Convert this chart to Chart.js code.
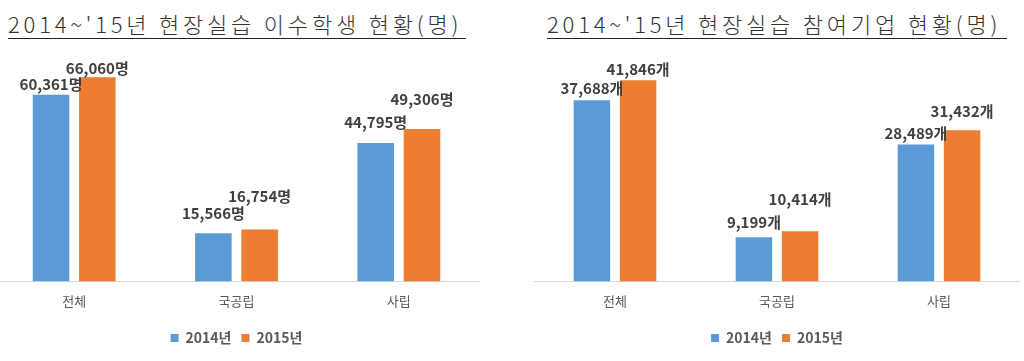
<!DOCTYPE html>
<html>
<head>
<meta charset="utf-8">
<script src="https://cdn.jsdelivr.net/npm/chart.js@4.4.1/dist/chart.umd.min.js"></script>
<style>
  body { margin: 0; width: 1024px; height: 361px; background: #fff; position: relative; overflow: hidden; font-family: "Noto Sans CJK KR", sans-serif; }
  .title { position: absolute; top: 9px; font-size: 22px; font-weight: 300; color: #333; letter-spacing: 3.8px; white-space: nowrap; border-bottom: 1px solid #222; line-height: 29px; }
  .box { position: absolute; top: 0; height: 361px; }
</style>
</head>
<body>
<div class="title" style="left:8px; width:458px;">2014~'15년 현장실습 이수학생 현황(명)</div>
<div class="title" style="left:547px; width:460px;">2014~'15년 현장실습 참여기업 현황(명)</div>
<div class="box" style="left:-7px; width:487px;"><canvas id="studentChart"></canvas></div>
<div class="box" style="left:534px; width:486px;"><canvas id="companyChart"></canvas></div>
<script>
// Categories and series
var categories = ["전체", "국공립", "사립"];
var seriesNames = ["2014년", "2015년"];

// 이수학생 (명)
var students2014 = [60361, 15566, 44795];
var students2015 = [66060, 16754, 49306];

// 참여기업 (개)
var companies2014 = [37688, 9199, 28489];
var companies2015 = [41846, 10414, 31432];

var colors = ["#5B9BD5", "#ED7D31"];

// How far each value label sits above its bar (px), per series.
var studentLabelLift = [[3, 12, 13], [1, 26, 22]];
var companyLabelLift = [[4, 7, 4], [3, 25, 11]];

// Draws the value labels above each bar.
var valueLabels = {
  id: "valueLabels",
  afterDatasetsDraw: function (chart) {
    var ctx = chart.ctx;
    var opts = chart.options.plugins.valueLabels;
    ctx.save();
    ctx.font = "bold 15px 'Noto Sans CJK KR'";
    ctx.fillStyle = "#404040";
    ctx.textAlign = "center";
    ctx.textBaseline = "bottom";
    chart.data.datasets.forEach(function (dataset, d) {
      var meta = chart.getDatasetMeta(d);
      meta.data.forEach(function (bar, i) {
        var text = dataset.data[i].toLocaleString("en-US") + opts.unit;
        ctx.fillText(text, bar.x, bar.y - opts.lift[d][i]);
      });
    });
    ctx.restore();
  }
};

function makeChart(canvasId, first, second, max, unit, lift) {
  return new Chart(document.getElementById(canvasId), {
    type: "bar",
    data: {
      labels: categories,
      datasets: [
        { label: seriesNames[0], data: first, backgroundColor: colors[0] },
        { label: seriesNames[1], data: second, backgroundColor: colors[1] }
      ]
    },
    options: {
      responsive: true,
      maintainAspectRatio: false,
      animation: false,
      categoryPercentage: 0.57,
      barPercentage: 0.79,
      layout: { padding: { top: 65, left: 0, right: 0, bottom: 6 } },
      scales: {
        x: {
          grid: { display: false, drawTicks: false },
          border: { color: "#d9d9d9", width: 1 },
          ticks: { color: "#595959", font: { size: 13, family: "'Noto Sans CJK KR'" }, padding: 12 }
        },
        y: { display: false, min: 0, max: max }
      },
      plugins: {
        legend: {
          position: "bottom",
          labels: {
            boxWidth: 8,
            boxHeight: 8,
            padding: 10,
            color: "#595959",
            font: { size: 14, weight: "bold", family: "'Noto Sans CJK KR'" }
          }
        },
        tooltip: { enabled: false },
        valueLabels: { unit: unit, lift: lift }
      }
    },
    plugins: [valueLabels]
  });
}

makeChart("studentChart", students2014, students2015, 70000, "명", studentLabelLift);
makeChart("companyChart", companies2014, companies2015, 45000, "개", companyLabelLift);
</script>
</body>
</html>
